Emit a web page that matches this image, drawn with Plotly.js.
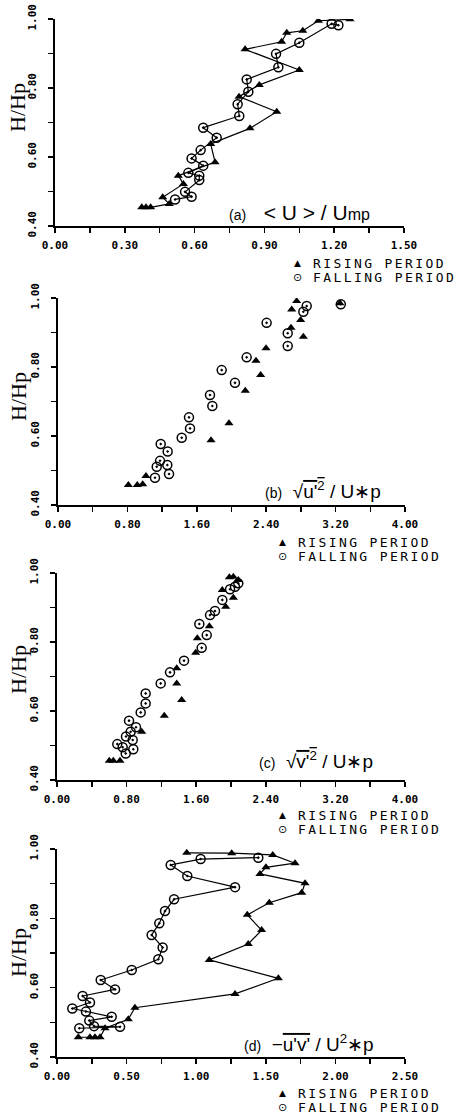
<!DOCTYPE html>
<html>
<head>
<meta charset="utf-8">
<script src="https://cdn.plot.ly/plotly-3.0.1.min.js"></script>
<style>html,body{margin:0;padding:0;background:#fff;}#chart{width:470px;height:1117px;}</style>
</head>
<body>
<div id="chart"></div>
<script>
// ---------- DATA ----------
// (a) <U>/Ump
const aRiseX = [0.373,0.391,0.411,0.491,0.463,0.552,0.530,0.688,0.669,0.838,0.953,0.791,0.878,1.050,0.817,0.974,0.996,1.065,1.132,1.268];
const aRiseY = [0.454,0.454,0.454,0.464,0.483,0.522,0.546,0.585,0.638,0.683,0.731,0.775,0.809,0.852,0.912,0.934,0.960,0.966,0.995,0.999];
const aFallX = [0.516,0.587,0.559,0.620,0.620,0.573,0.637,0.587,0.626,0.695,0.637,0.792,0.785,0.831,0.824,0.960,0.950,1.050,1.189,1.218];
const aFallY = [0.477,0.485,0.499,0.533,0.546,0.554,0.575,0.596,0.620,0.656,0.685,0.719,0.753,0.789,0.825,0.860,0.899,0.931,0.986,0.982];
// (b) sqrt(u'^2)/U*p
const bRiseX = [0.811,0.914,0.976,1.014,1.764,1.971,2.159,2.336,2.282,2.398,2.828,2.686,2.797,2.694,2.751,3.25];
const bRiseY = [0.458,0.458,0.460,0.484,0.588,0.637,0.731,0.777,0.818,0.854,0.888,0.914,0.936,0.967,0.991,0.985];
const bFallX = [1.118,1.280,1.138,1.260,1.176,1.264,1.184,1.426,1.522,1.510,1.779,1.752,2.040,1.887,2.175,2.405,2.648,2.648,2.828,2.867,3.26];
const bFallY = [0.479,0.490,0.511,0.516,0.528,0.555,0.577,0.595,0.622,0.654,0.687,0.719,0.754,0.791,0.828,0.928,0.861,0.898,0.960,0.977,0.982];
// (c) sqrt(v'^2)/U*p
const cRiseX = [0.601,0.647,0.724,0.974,1.233,1.433,1.376,1.376,1.594,1.613,1.751,1.939,2.027,1.900,2.084,1.981,2.027];
const cRiseY = [0.456,0.456,0.456,0.540,0.586,0.632,0.680,0.724,0.769,0.811,0.846,0.902,0.928,0.951,0.980,0.988,0.989];
const cFallX = [0.790,0.877,0.755,0.693,0.870,0.793,0.847,0.908,0.828,0.962,1.019,1.019,1.192,1.299,1.460,1.663,1.721,1.636,1.759,1.816,1.900,1.989,2.046,2.084];
const cFallY = [0.477,0.489,0.495,0.504,0.516,0.526,0.540,0.553,0.572,0.596,0.622,0.651,0.680,0.712,0.746,0.783,0.820,0.852,0.878,0.890,0.922,0.953,0.960,0.970];
// (d) -u'v'/U*p^2
const dRiseX = [0.153,0.237,0.273,0.309,0.345,0.512,0.560,1.279,1.590,1.094,1.374,1.470,1.367,1.525,1.758,1.782,1.458,1.501,1.710,1.550,1.255,0.932];
const dRiseY = [0.457,0.457,0.457,0.457,0.483,0.509,0.542,0.582,0.627,0.680,0.726,0.766,0.810,0.845,0.874,0.901,0.928,0.947,0.959,0.983,0.988,0.989];
const dFallX = [0.160,0.453,0.266,0.232,0.393,0.208,0.110,0.237,0.184,0.417,0.314,0.537,0.728,0.759,0.680,0.735,0.776,0.841,1.279,0.936,0.817,1.032,1.446];
const dFallY = [0.483,0.487,0.489,0.505,0.516,0.531,0.540,0.557,0.576,0.595,0.622,0.651,0.682,0.716,0.752,0.786,0.821,0.855,0.890,0.922,0.954,0.971,0.975];

// tick labels
const yTickVals = [0.4,0.5,0.6,0.7,0.8,0.9,1.0];
const yTickText = ['0.40','','0.60','','0.80','','1.00'];
const aTickVals = [0,0.15,0.3,0.45,0.6,0.75,0.9,1.05,1.2,1.35,1.5];
const aTickText = ['0.00','','0.30','','0.60','','0.90','','1.20','','1.50'];
const bcTickVals = [0,0.4,0.8,1.2,1.6,2.0,2.4,2.8,3.2,3.6,4.0];
const bcTickText = ['0.00','','0.80','','1.60','','2.40','','3.20','','4.00'];
const dTickVals = [0,0.25,0.5,0.75,1.0,1.25,1.5,1.75,2.0,2.25,2.5];
const dTickText = ['0.00','','0.50','','1.00','','1.50','','2.00','','2.50'];

const legendNames = ['RISING PERIOD','FALLING PERIOD'];
const legendGlyphs = ['▲','⊙'];
const panelLabels = [
  "<span style='font-size:14px'>(a)</span>   &lt; U &gt; / U<span style='font-size:16px'>mp</span>",
  "<span style='font-size:14px'>(b)</span>  √<span style='text-decoration:overline'>u'<sup>2</sup></span> / U∗p",
  "<span style='font-size:14px'>(c)</span>  √<span style='text-decoration:overline'>v'<sup>2</sup></span> / U∗p",
  "<span style='font-size:14px'>(d)</span>  −<span style='text-decoration:overline'>u'v'</span> / U<sup>2</sup>∗p"
];
const labelSizes = [21, 19, 19, 19];
const yTitle = 'H/Hp';

// ---------- LAYOUT ----------
const W = 470, H = 1117;
const px = v => v / W;
const py = v => 1 - v / H;
const panels = [
  {top:19,  bot:226,  left:55, right:404, xr:[0,1.5], tv:aTickVals,  tt:aTickText,  lab:[227,213], legX:297, legY:[263,277],  titleY:108},
  {top:298, bot:505,  left:58, right:405, xr:[0,4.0], tv:bcTickVals, tt:bcTickText, lab:[263,490], legX:282, legY:[542,556],  titleY:397},
  {top:573, bot:780,  left:57, right:405, xr:[0,4.0], tv:bcTickVals, tt:bcTickText, lab:[257,760], legX:282, legY:[815,829],  titleY:670},
  {top:849, bot:1057, left:57, right:405, xr:[0,2.5], tv:dTickVals,  tt:dTickText,  lab:[242,1043],legX:282, legY:[1093,1107],titleY:953}
];
const series = [
  [aRiseX,aRiseY,aFallX,aFallY,'lines+markers'],
  [bRiseX,bRiseY,bFallX,bFallY,'markers'],
  [cRiseX,cRiseY,cFallX,cFallY,'markers'],
  [dRiseX,dRiseY,dFallX,dFallY,'lines+markers']
];

const tickFont = {family:'DejaVu Sans Mono', size:11, color:'#000', weight:'bold'};
const layout = {
  width: W, height: H,
  margin: {l:0,r:0,t:0,b:0},
  paper_bgcolor:'#fff', plot_bgcolor:'rgba(0,0,0,0)',
  showlegend: false,
  annotations: [],
  font: {family:'DejaVu Sans', color:'#000'}
};
const data = [];

panels.forEach((p, i) => {
  const n = i + 1;
  const xa = 'xaxis' + (n === 1 ? '' : n);
  const ya = 'yaxis' + (n === 1 ? '' : n);
  const yr = 'yaxis' + (n + 4);
  const xid = 'x' + (n === 1 ? '' : n);
  const yid = 'y' + (n === 1 ? '' : n);
  layout[xa] = {
    domain:[px(p.left), px(p.right)], range:p.xr, anchor:yid,
    tickmode:'array', tickvals:p.tv, ticktext:p.tt,
    ticks:'outside', ticklen:5, tickwidth:1.5, tickcolor:'#000',
    showline:true, linewidth:1.6, linecolor:'#000',
    showgrid:false, zeroline:false, tickfont:tickFont, ticklabelstandoff:3
  };
  const yBase = {
    domain:[py(p.bot), py(p.top)], range:[0.4,1.0], anchor:xid,
    tickmode:'array', tickvals:yTickVals, ticktext:yTickText,
    ticks:'outside', ticklen:5, tickwidth:1.5, tickcolor:'#000',
    showline:true, linewidth:1.8, linecolor:'#000',
    showgrid:false, zeroline:false, tickfont:tickFont, tickangle:-90
  };
  layout[ya] = Object.assign({}, yBase, {ticklabelstandoff:8});
  layout[yr] = Object.assign({}, yBase, {overlaying:yid, side:'right', ticklabelstandoff:2});

  const s = series[i];
  data.push({
    x:s[0], y:s[1], xaxis:xid, yaxis:yid, mode:s[4], name:legendNames[0],
    line:{color:'#000', width:1.2},
    marker:{symbol:'triangle-up', size:8, color:'#000'}
  });
  data.push({
    x:s[2], y:s[3], xaxis:xid, yaxis:yid, mode:s[4], name:legendNames[1],
    line:{color:'#000', width:1.2},
    marker:{symbol:'circle-open-dot', size:9, color:'#000', line:{width:1.5, color:'#000'}}
  });

  // legend rows (glyph + label)
  for (let k = 0; k < 2; k++) {
    layout.annotations.push({
      xref:'paper', yref:'paper', x:px(p.legX), y:py(p.legY[k]),
      xanchor:'center', yanchor:'middle', showarrow:false,
      text: legendGlyphs[k],
      font:{family:'DejaVu Sans', size:k === 0 ? 9 : 11, color:'#000'}
    });
    layout.annotations.push({
      xref:'paper', yref:'paper', x:px(p.legX + 14), y:py(p.legY[k]),
      xanchor:'left', yanchor:'middle', showarrow:false,
      text: "<span style='letter-spacing:2.4px'>" + legendNames[k] + "</span>",
      font:{family:'DejaVu Sans Mono', size:13, color:'#000'}
    });
  }

  layout.annotations.push({
    xref:'paper', yref:'paper', x:px(p.lab[0]), y:py(p.lab[1]),
    xanchor:'left', yanchor:'middle', showarrow:false,
    text: panelLabels[i],
    font:{family:'Liberation Sans', size:labelSizes[i], color:'#000'}
  });
  layout.annotations.push({
    xref:'paper', yref:'paper', x:px(18), y:py(p.titleY),
    xanchor:'center', yanchor:'middle', showarrow:false, textangle:-90,
    text: yTitle,
    font:{family:'Liberation Serif', size:22, color:'#000'}
  });
});

Plotly.newPlot('chart', data, layout, {displayModeBar:false, staticPlot:true});
</script>
</body>
</html>
